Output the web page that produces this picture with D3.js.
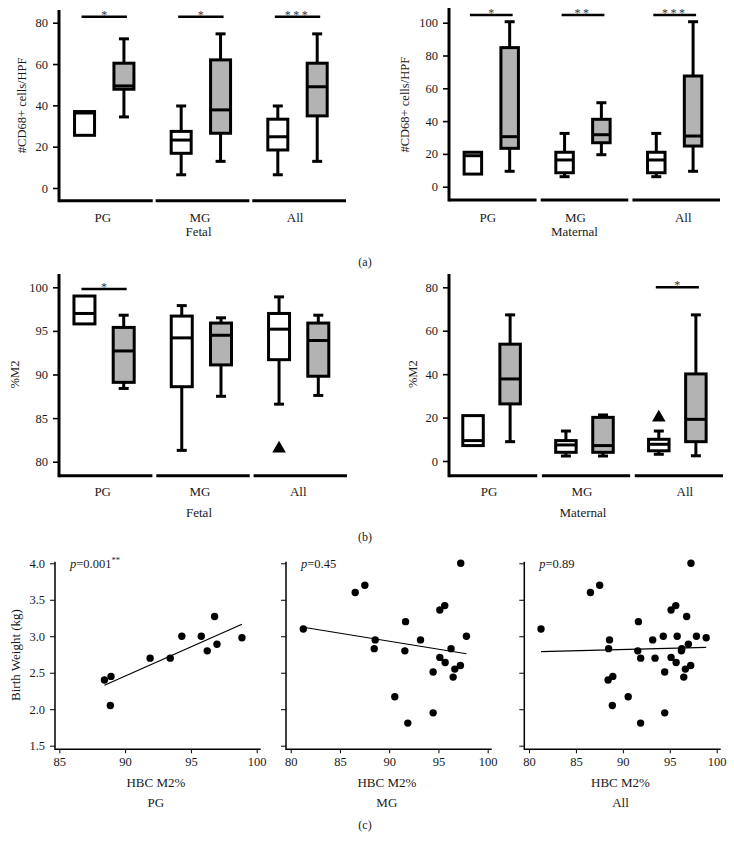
<!DOCTYPE html>
<html><head><meta charset="utf-8">
<script src="https://cdn.jsdelivr.net/npm/d3@7"></script>
<style>
html,body{margin:0;padding:0;background:#fff;}
text{font-family:"Liberation Serif","DejaVu Serif",serif;fill:#1a1a1a;}
.star{opacity:0.99;}
</style></head>
<body><svg id="c" width="734" height="851"></svg>
<script>
// ---------------- DATA ----------------
const groups = ["PG", "MG", "All"];
const series = ["white", "gray"];
// box stats: [min, q1, median, q3, max]
const cd68FetalWhite = [[25.5,25.5,36.3,37,37],[6.4,16.8,23.2,27.4,39.7],[6.4,18.4,24.8,33.3,39.7]];
const cd68FetalGray  = [[34.4,47.8,49.4,60.4,72.2],[12.9,26.5,37.8,62,74.6],[12.9,34.9,49,60.4,74.6]];
const cd68MaternalWhite = [[7.7,7.7,18.9,21,21],[6.1,8.5,16.3,21,32.5],[6.1,8.5,16.3,21,32.5]];
const cd68MaternalGray  = [[9.4,23.4,30.5,84.8,100.6],[19.5,26.8,31.7,41.1,51.2],[9.4,24.8,30.9,67.5,100.6]];
const m2FetalWhite = [[95.8,95.8,97,99,99],[81.3,88.6,94.2,96.7,97.9],[86.6,91.7,95.2,97.0,98.9]];
const m2FetalGray  = [[88.4,89.1,92.7,95.4,96.8],[87.5,91.1,94.5,95.9,96.5],[87.6,89.8,93.9,95.9,96.8]];
const m2MaternalWhite = [[7.1,7.1,9.4,20.9,20.9],[2.3,4.0,7.4,9.4,13.8],[3.1,4.7,7.7,10,13.8]];
const m2MaternalGray  = [[8.9,26.3,37.8,53.8,67.3],[2.3,4.0,7.1,20.1,21.2],[2.4,8.9,19.2,40.1,67.3]];
// outliers: [group, series, value]
const m2FetalOutliers = [["All","white",81.5]];
const m2MaternalOutliers = [["All","white",20]];
// significance per group
const cd68FetalSig = ["*","*","***"];
const cd68MaternalSig = ["*","**","***"];
const m2FetalSig = ["*",null,null];
const m2MaternalSig = [null,null,"*"];
// tick labels
const cd68FetalTicks = [0,20,40,60,80];
const cd68MaternalTicks = [0,20,40,60,80,100];
const m2FetalTicks = [80,85,90,95,100];
const m2MaternalTicks = [0,20,40,60,80];
const bwTicks = [1.5,2.0,2.5,3.0,3.5,4.0];
const m2TicksPG = [85,90,95,100];
const m2TicksWide = [80,85,90,95,100];
// scatter: HBC M2% vs birth weight (kg)
const pgM2 = [88.43,88.93,88.88,91.9,93.43,94.31,95.79,96.24,96.8,96.98,98.88];
const pgBW = [2.40,2.45,2.05,2.70,2.70,3.00,3.00,2.80,3.27,2.89,2.98];
const mgM2 = [81.28,86.55,87.53,88.58,88.48,90.57,91.66,91.59,91.89,93.18,94.46,94.46,95.14,95.14,95.64,95.68,96.28,96.49,96.66,97.23,97.26,97.84];
const mgBW = [3.10,3.60,3.70,2.95,2.83,2.17,3.20,2.80,1.81,2.95,2.51,1.95,2.71,3.36,3.42,2.64,2.83,2.44,2.55,2.60,4.00,3.00];
const pValues = ["0.001", "0.45", "0.89"];
const pStars = ["**", "", ""];

// ---------------- DRAW ----------------
const svg = d3.select("#c");
const FILL = {white:"#ffffff", gray:"#b3b3b3"};

function boxPanel(cfg){
  const g = svg.append("g");
  const x = d3.scaleBand().domain(groups).range(cfg.xr).paddingInner(cfg.pad);
  const s = d3.scalePoint().domain(series).range([0, x.bandwidth()]).padding(0.69).align(cfg.align);
  const y = d3.scaleLinear().domain(cfg.yd).range(cfg.yr);
  const x0 = cfg.xr[0];
  // y axis
  const ax = g.append("g").attr("transform",`translate(${x0},0)`)
    .call(d3.axisLeft(y).tickValues(cfg.ticks).tickSize(6).tickPadding(5).tickFormat(d3.format("d")));
  ax.select(".domain").remove();
  ax.selectAll(".tick line").attr("stroke","#000").attr("stroke-width",1.6);
  ax.selectAll(".tick text").attr("font-size",12.5).attr("font-family","Liberation Serif").attr("fill","#1a1a1a");
  g.append("line").attr("x1",x0).attr("x2",x0).attr("y1",cfg.axTop).attr("y2",cfg.axBot+1.5)
    .attr("stroke","#000").attr("stroke-width",3);
  // segmented x axis
  g.selectAll(".seg").data(groups).join("line")
    .attr("x1",d=>x(d)).attr("x2",d=>x(d)+x.bandwidth())
    .attr("y1",cfg.axBot).attr("y2",cfg.axBot).attr("stroke","#000").attr("stroke-width",3);
  g.selectAll(".gl").data(groups).join("text")
    .attr("x",(d,i)=>x(d)+x.bandwidth()/2+cfg.lblShift[i]).attr("y",cfg.lblY).attr("text-anchor","middle")
    .attr("font-size",13).text(d=>d);
  g.append("text").attr("x",(cfg.xr[0]+cfg.xr[1])/2+cfg.subShift).attr("y",cfg.subY).attr("text-anchor","middle")
    .attr("font-size",13).text(cfg.sub);
  g.append("text").attr("transform",`translate(${cfg.ytX},${(cfg.yr[0]+cfg.yr[1])/2}) rotate(-90)`)
    .attr("text-anchor","middle").attr("dy","0.35em").attr("font-size",12.5).text(cfg.yTitle);
  // boxes
  const items = [];
  groups.forEach((gr,i)=>{
    items.push({gr, se:"white", st:cfg.white[i]});
    items.push({gr, se:"gray", st:cfg.gray[i]});
  });
  const bw = cfg.boxW, cap = 10;
  const bx = g.selectAll(".box").data(items).join("g")
    .attr("transform",d=>`translate(${x(d.gr)+s(d.se)},0)`);
  bx.each(function(d){
    const e = d3.select(this);
    const [mn,q1,md,q3,mx] = d.st;
    if (mx > q3){
      e.append("line").attr("x1",0).attr("x2",0).attr("y1",y(mx)).attr("y2",y(q3)).attr("stroke","#000").attr("stroke-width",3);
      e.append("line").attr("x1",-cap/2).attr("x2",cap/2).attr("y1",y(mx)).attr("y2",y(mx)).attr("stroke","#000").attr("stroke-width",3);
    }
    if (mn < q1){
      e.append("line").attr("x1",0).attr("x2",0).attr("y1",y(q1)).attr("y2",y(mn)).attr("stroke","#000").attr("stroke-width",3);
      e.append("line").attr("x1",-cap/2).attr("x2",cap/2).attr("y1",y(mn)).attr("y2",y(mn)).attr("stroke","#000").attr("stroke-width",3);
    }
    e.append("rect").attr("x",-bw/2).attr("width",bw).attr("y",y(q3)).attr("height",y(q1)-y(q3))
      .attr("fill",FILL[d.se]).attr("stroke","#000").attr("stroke-width",3);
    e.append("line").attr("x1",-bw/2).attr("x2",bw/2).attr("y1",y(md)).attr("y2",y(md)).attr("stroke","#000").attr("stroke-width",3);
  });
  // outliers
  (cfg.outliers||[]).forEach(o=>{
    g.append("path").attr("d",d3.symbol(d3.symbolTriangle, 80)())
      .attr("transform",`translate(${x(o[0])+s(o[1])},${y(o[2])})`).attr("fill","#000");
  });
  // significance
  groups.forEach((gr,i)=>{
    const sig = cfg.sig[i]; if(!sig) return;
    const xa = x(gr)+s("white")-3, xb = x(gr)+s("gray")+3;
    g.append("line").attr("x1",xa).attr("x2",xb).attr("y1",cfg.sigY).attr("y2",cfg.sigY).attr("stroke","#000").attr("stroke-width",2.5);
    g.append("text").attr("class","star").attr("x",(xa+xb)/2).attr("y",cfg.sigY+2).attr("text-anchor","middle")
      .attr("font-size",12).attr("letter-spacing",sig.length>1?"2.5px":"0").style("fill","#333").text(sig);
  });
}

boxPanel({xr:[59,346],pad:0.03,align:0.47,yd:[0,80],yr:[188,22.7],ticks:cd68FetalTicks,axTop:10,axBot:200.7,
  boxW:20,white:cd68FetalWhite,gray:cd68FetalGray,sig:cd68FetalSig,sigY:16.7,lblY:222,lblShift:[-3,-2.5,-4],subY:236,subShift:-4,
  sub:"Fetal",yTitle:"#CD68+ cells/HPF",ytX:22});
boxPanel({xr:[449,720],pad:0.045,align:0.47,yd:[0,100],yr:[186.7,22.7],ticks:cd68MaternalTicks,axTop:8,axBot:200,
  boxW:17.5,white:cd68MaternalWhite,gray:cd68MaternalGray,sig:cd68MaternalSig,sigY:15,lblY:222,lblShift:[-5,-9,7],subY:236,subShift:-10,
  sub:"Maternal",yTitle:"#CD68+ cells/HPF",ytX:405});
boxPanel({xr:[59,347],pad:0.04,align:0.47,yd:[80,100],yr:[461.7,287.3],ticks:m2FetalTicks,axTop:274,axBot:475.7,
  boxW:21,white:m2FetalWhite,gray:m2FetalGray,sig:m2FetalSig,sigY:289,lblY:496,lblShift:[-3,-3,-2],subY:517,subShift:-4,
  sub:"Fetal",yTitle:"%M2",ytX:15,outliers:m2FetalOutliers});
boxPanel({xr:[449,723],pad:0.05,align:0.47,yd:[0,80],yr:[461,287.3],ticks:m2MaternalTicks,axTop:274,axBot:475.7,
  boxW:20.5,white:m2MaternalWhite,gray:m2MaternalGray,sig:m2MaternalSig,sigY:287.3,lblY:496,lblShift:[-4,-4,6],subY:517,subShift:-3,
  sub:"Maternal",yTitle:"%M2",ytX:413,outliers:m2MaternalOutliers});

// panel labels
[["(a)",262],["(b)",537],["(c)",825]].forEach(([t,yy])=>{
  svg.append("text").attr("x",365).attr("y",yy).attr("dy","0.35em").attr("text-anchor","middle").attr("font-size",12).text(t);
});

// scatter panels
const allM2 = pgM2.concat(mgM2), allBW = pgBW.concat(mgBW);
function scatterPanel(cfg){
  const g = svg.append("g");
  const x = d3.scaleLinear().domain(cfg.xd).range(cfg.xr);
  const y = d3.scaleLinear().domain([1.5,4.0]).range([745.7,563.3]);
  const axY = 749.3;
  // y axis
  const ya = g.append("g").attr("transform",`translate(${cfg.ax},0)`)
    .call(d3.axisLeft(y).tickValues(bwTicks).tickSize(5).tickPadding(5).tickFormat(cfg.yLabels?d3.format(".1f"):()=>""));
  ya.select(".domain").remove();
  ya.selectAll(".tick line").attr("stroke","#000").attr("stroke-width",1);
  ya.selectAll(".tick text").attr("font-size",12.5).attr("font-family","Liberation Serif").attr("fill","#1a1a1a");
  g.append("line").attr("x1",cfg.ax).attr("x2",cfg.ax).attr("y1",y(4.0)-1.5).attr("y2",axY+0.75).attr("stroke","#000").attr("stroke-width",1.5);
  const xa = g.append("g").attr("transform",`translate(0,${axY})`)
    .call(d3.axisBottom(x).tickValues(cfg.xt).tickSize(4).tickPadding(4).tickFormat(d3.format("d")));
  xa.select(".domain").remove();
  xa.selectAll(".tick line").attr("stroke","#000").attr("stroke-width",1);
  xa.selectAll(".tick text").attr("font-size",12.5).attr("font-family","Liberation Serif").attr("fill","#1a1a1a");
  g.append("line").attr("x1",cfg.ax).attr("x2",x(100)+4).attr("y1",axY).attr("y2",axY).attr("stroke","#000").attr("stroke-width",1.5);
  // regression
  const n = cfg.xs.length, mx = d3.mean(cfg.xs), my = d3.mean(cfg.ys);
  let sxy=0, sxx=0; for(let i=0;i<n;i++){ sxy+=(cfg.xs[i]-mx)*(cfg.ys[i]-my); sxx+=(cfg.xs[i]-mx)**2; }
  const b = sxy/sxx, a = my - b*mx;
  const [x1,x2] = d3.extent(cfg.xs);
  g.append("line").attr("x1",x(x1)).attr("x2",x(x2)).attr("y1",y(a+b*x1)).attr("y2",y(a+b*x2)).attr("stroke","#000").attr("stroke-width",1.2);
  g.selectAll("circle").data(d3.range(n)).join("circle")
    .attr("cx",i=>x(cfg.xs[i])).attr("cy",i=>y(cfg.ys[i])).attr("r",3.7).attr("fill","#000");
  const pt = g.append("text").attr("x",cfg.ax+15).attr("y",y(4.0)).attr("dy","0.35em").attr("font-size",12.5);
  pt.append("tspan").attr("font-style","italic").text("p");
  pt.append("tspan").text("="+cfg.p);
  if(cfg.stars) pt.append("tspan").attr("class","star").attr("font-size",8.5).attr("dy","-0.5em").text(cfg.stars);
  const cx = (cfg.ax + x(100))/2;
  g.append("text").attr("x",cx).attr("y",787).attr("text-anchor","middle").attr("font-size",13).text("HBC M2%");
  g.append("text").attr("x",cx).attr("y",807).attr("text-anchor","middle").attr("font-size",13).text(cfg.name);
}
scatterPanel({xd:[85,100],xr:[59.3,256.7],ax:55,xt:m2TicksPG,yLabels:true,xs:pgM2,ys:pgBW,p:pValues[0],stars:pStars[0],name:"PG"});
scatterPanel({xd:[80,100],xr:[290.7,487.7],ax:286,xt:m2TicksWide,yLabels:false,xs:mgM2,ys:mgBW,p:pValues[1],stars:pStars[1],name:"MG"});
scatterPanel({xd:[80,100],xr:[529,716.7],ax:524.3,xt:m2TicksWide,yLabels:false,xs:allM2,ys:allBW,p:pValues[2],stars:pStars[2],name:"All"});
svg.append("text").attr("transform","translate(15,655) rotate(-90)").attr("text-anchor","middle").attr("dy","0.35em")
  .attr("font-size",13).text("Birth Weight (kg)");
</script></body></html>
